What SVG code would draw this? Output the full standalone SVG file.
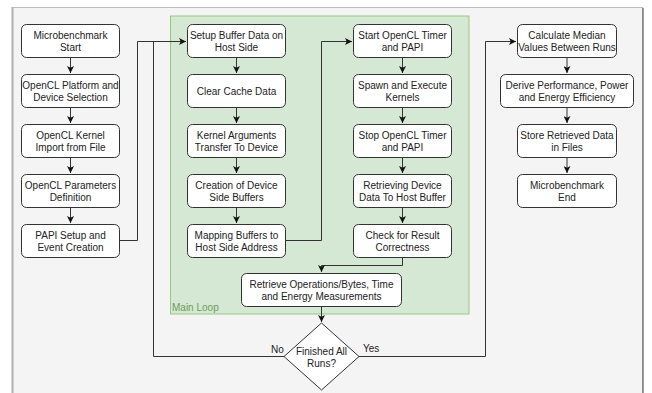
<svg xmlns="http://www.w3.org/2000/svg" width="652" height="393" viewBox="0 0 652 393">
<style>
.box{fill:#fff;stroke:#333;stroke-width:1}
.t{font-family:"Liberation Sans",Arial,sans-serif;font-size:10px;fill:#222;text-anchor:middle;dominant-baseline:central}
.c{fill:none;stroke:#333;stroke-width:1}
.lbl{font-family:"Liberation Sans",Arial,sans-serif;font-size:10px;fill:#222}
</style>
<defs>
<marker id="a" viewBox="0 0 10 10" refX="10" refY="5" markerWidth="7" markerHeight="7" orient="auto" markerUnits="userSpaceOnUse">
<path d="M0,0 L10,5 L0,10 L2.5,5 Z" fill="#111"/>
</marker>
</defs>
<rect x="0" y="0" width="652" height="393" fill="#fff"/>
<rect x="12.5" y="7.5" width="630" height="390" fill="#f4f4f4" stroke="#bdbdbd" stroke-width="1"/>
<line x1="12.5" y1="7" x2="12.5" y2="393" stroke="#b0b0b0" stroke-width="2"/>
<line x1="643" y1="8" x2="643" y2="393" stroke="#7a7a7a" stroke-width="1.5"/>
<g id="main-loop">
<rect x="170.5" y="16" width="298.5" height="298" fill="#d5e8d4" stroke="#97c77f" stroke-width="1"/>
<text x="172" y="307" font-family="Liberation Sans,Arial,sans-serif" font-size="10" fill="#6e9a5a" dominant-baseline="central">Main Loop</text>
</g>
<g id="connectors">
<path class="c" d="M70.5,57 V73" marker-end="url(#a)"/>
<path class="c" d="M70.5,107 V123" marker-end="url(#a)"/>
<path class="c" d="M70.5,157 V173" marker-end="url(#a)"/>
<path class="c" d="M70.5,207 V223" marker-end="url(#a)"/>
<path class="c" d="M120,240.5 H137.5 V41.5 H186" marker-end="url(#a)"/>
<path class="c" d="M236.5,57 V73" marker-end="url(#a)"/>
<path class="c" d="M236.5,107 V123" marker-end="url(#a)"/>
<path class="c" d="M236.5,157 V173" marker-end="url(#a)"/>
<path class="c" d="M236.5,207 V223" marker-end="url(#a)"/>
<path class="c" d="M286,240.5 H321.5 V41.5 H352" marker-end="url(#a)"/>
<path class="c" d="M402.5,57 V73" marker-end="url(#a)"/>
<path class="c" d="M402.5,107 V123" marker-end="url(#a)"/>
<path class="c" d="M402.5,157 V173" marker-end="url(#a)"/>
<path class="c" d="M402.5,207 V223" marker-end="url(#a)"/>
<path class="c" d="M402.5,257 V265.5 H321.5 V272" marker-end="url(#a)"/>
<path class="c" d="M321.5,306 V322" marker-end="url(#a)"/>
<path class="c" d="M284,356.5 H153.5 V41.5"/>
<path class="c" d="M359,356.5 H485.5 V41.5 H516" marker-end="url(#a)"/>
<path class="c" d="M567,57 V73" marker-end="url(#a)"/>
<path class="c" d="M567,107 V123" marker-end="url(#a)"/>
<path class="c" d="M567,157 V173" marker-end="url(#a)"/>
<text class="lbl" x="271" y="349" dominant-baseline="central">No</text>
<text class="lbl" x="363" y="348" dominant-baseline="central">Yes</text>
</g>
<g id="n1"><rect class="box" x="21.5" y="24.5" width="98" height="33" rx="5"/><text class="t" x="70.5" y="35">Microbenchmark</text><text class="t" x="70.5" y="47">Start</text></g>
<g id="n2"><rect class="box" x="21.5" y="74.5" width="98" height="33" rx="5"/><text class="t" x="70.5" y="85">OpenCL Platform and</text><text class="t" x="70.5" y="97">Device Selection</text></g>
<g id="n3"><rect class="box" x="21.5" y="124.5" width="98" height="33" rx="5"/><text class="t" x="70.5" y="135">OpenCL Kernel</text><text class="t" x="70.5" y="147">Import from File</text></g>
<g id="n4"><rect class="box" x="21.5" y="174.5" width="98" height="33" rx="5"/><text class="t" x="70.5" y="185">OpenCL Parameters</text><text class="t" x="70.5" y="197">Definition</text></g>
<g id="n5"><rect class="box" x="21.5" y="224.5" width="98" height="33" rx="5"/><text class="t" x="70.5" y="235">PAPI Setup and</text><text class="t" x="70.5" y="247">Event Creation</text></g>
<g id="n6"><rect class="box" x="187.5" y="24.5" width="98" height="33" rx="5"/><text class="t" x="236.5" y="35">Setup Buffer Data on</text><text class="t" x="236.5" y="47">Host Side</text></g>
<g id="n7"><rect class="box" x="187.5" y="74.5" width="98" height="33" rx="5"/><text class="t" x="236.5" y="91">Clear Cache Data</text></g>
<g id="n8"><rect class="box" x="187.5" y="124.5" width="98" height="33" rx="5"/><text class="t" x="236.5" y="135">Kernel Arguments</text><text class="t" x="236.5" y="147">Transfer To Device</text></g>
<g id="n9"><rect class="box" x="187.5" y="174.5" width="98" height="33" rx="5"/><text class="t" x="236.5" y="185">Creation of Device</text><text class="t" x="236.5" y="197">Side Buffers</text></g>
<g id="n10"><rect class="box" x="187.5" y="224.5" width="98" height="33" rx="5"/><text class="t" x="236.5" y="235">Mapping Buffers to</text><text class="t" x="236.5" y="247">Host Side Address</text></g>
<g id="n11"><rect class="box" x="353.5" y="24.5" width="98" height="33" rx="5"/><text class="t" x="402.5" y="35">Start OpenCL Timer</text><text class="t" x="402.5" y="47">and PAPI</text></g>
<g id="n12"><rect class="box" x="353.5" y="74.5" width="98" height="33" rx="5"/><text class="t" x="402.5" y="85">Spawn and Execute</text><text class="t" x="402.5" y="97">Kernels</text></g>
<g id="n13"><rect class="box" x="353.5" y="124.5" width="98" height="33" rx="5"/><text class="t" x="402.5" y="135">Stop OpenCL Timer</text><text class="t" x="402.5" y="147">and PAPI</text></g>
<g id="n14"><rect class="box" x="353.5" y="174.5" width="98" height="33" rx="5"/><text class="t" x="402.5" y="185">Retrieving Device</text><text class="t" x="402.5" y="197">Data To Host Buffer</text></g>
<g id="n15"><rect class="box" x="353.5" y="224.5" width="98" height="33" rx="5"/><text class="t" x="402.5" y="235">Check for Result</text><text class="t" x="402.5" y="247">Correctness</text></g>
<g id="n16"><rect class="box" x="241.5" y="273.5" width="160" height="33" rx="5"/><text class="t" x="321.5" y="284">Retrieve Operations/Bytes, Time</text><text class="t" x="321.5" y="296">and Energy Measurements</text></g>
<g id="n17"><path class="box" d="M321.5,323 L359,356.5 L321.5,390 L284,356.5 Z"/><text class="t" x="321.5" y="351">Finished All</text><text class="t" x="321.5" y="363">Runs?</text></g>
<g id="n18"><rect class="box" x="517.5" y="24.5" width="99" height="33" rx="5"/><text class="t" x="567" y="35">Calculate Median</text><text class="t" x="567" y="47">Values Between Runs</text></g>
<g id="n19"><rect class="box" x="500.5" y="74.5" width="133" height="33" rx="5"/><text class="t" x="567" y="85">Derive Performance, Power</text><text class="t" x="567" y="97">and Energy Efficiency</text></g>
<g id="n20"><rect class="box" x="517.5" y="124.5" width="99" height="33" rx="5"/><text class="t" x="567" y="135">Store Retrieved Data</text><text class="t" x="567" y="147">in Files</text></g>
<g id="n21"><rect class="box" x="517.5" y="174.5" width="99" height="33" rx="5"/><text class="t" x="567" y="185">Microbenchmark</text><text class="t" x="567" y="197">End</text></g>
</svg>
